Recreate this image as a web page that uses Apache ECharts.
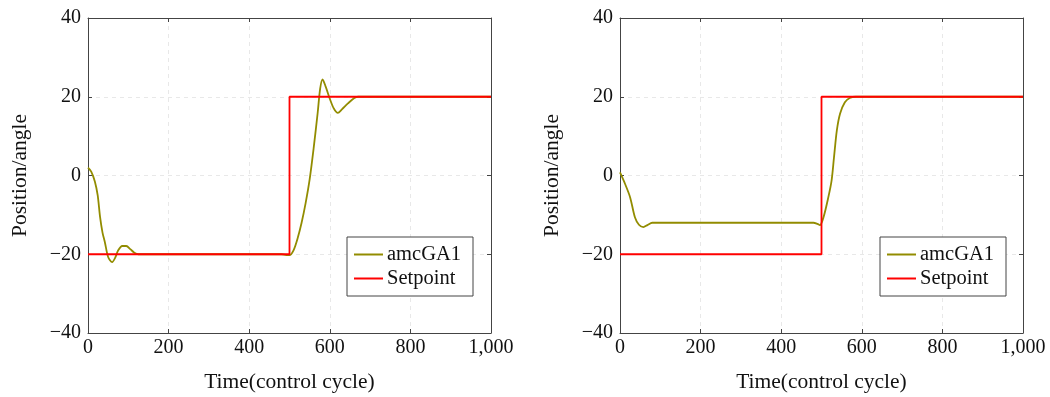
<!DOCTYPE html>
<html>
<head>
<meta charset="utf-8">
<script src="https://cdn.jsdelivr.net/npm/echarts@6/dist/echarts.min.js"></script>
<style>
html,body{margin:0;padding:0;background:#fff;}
#c{width:1050px;height:397px;}
</style>
</head>
<body>
<div id="c"></div>
<script>
// ---- data ----
const xTicks = [0, 200, 400, 600, 800, 1000];
const yTicks = [-40, -20, 0, 20, 40];
const seriesNames = ['amcGA1', 'Setpoint'];

const leftTime  = [0, 8, 17, 24, 30, 36, 42, 50, 60, 67, 75, 85, 95, 105, 115, 125, 200, 300, 400, 480, 492, 500, 510, 520, 530, 540, 550, 560, 570, 576, 582, 590, 600, 610, 620, 630, 645, 660, 670, 700, 1000];
const leftValue = [2, 1, -1.5, -5, -10.6, -14.5, -17, -20.7, -22, -21, -19, -17.9, -17.9, -18.7, -19.6, -20, -20, -20, -20, -20, -20.2, -20.2, -19, -16, -12, -7, -1, 7, 16, 22, 24.4, 22.5, 19.5, 17, 15.9, 16.8, 18.3, 19.6, 20, 20, 20];

const rightTime  = [0, 10, 25, 37, 47, 58, 68, 80, 100, 200, 300, 400, 480, 490, 496, 505, 517, 525, 531, 538, 546, 558, 570, 585, 600, 1000];
const rightValue = [0.8, -1.5, -5.5, -10.6, -12.5, -13.1, -12.6, -12, -12, -12, -12, -12, -12, -12.3, -12.6, -10.6, -5.5, -1.3, 4.6, 11.4, 15.7, 18.6, 19.7, 20, 20, 20];

const setTime  = [0, 500, 500, 1000];
const setValue = [-20, -20, 20, 20];

// ---- styling ----
const FONT = 'Liberation Serif';
const OLIVE = '#928c00';
const RED = '#ff0000';
const AXIS = '#444';

function pairs(xs, ys){ return xs.map((x,i)=>[x, ys[i]]); }
const fmtX = v => v === 1000 ? '1,000' : String(v);
const fmtY = v => v < 0 ? '\u2212' + Math.abs(v) : String(v);

const grids = [
  {left: 88, top: 18, width: 403, height: 315, outerBoundsMode: 'none', containLabel: false},
  {left: 620, top: 18, width: 403, height: 315, outerBoundsMode: 'none', containLabel: false}
];

const xAxis = [], yAxis = [], series = [], legend = [];
[0,1].forEach(g => {
  xAxis.push({
    type: 'value', gridIndex: g, min: 0, max: 1000, interval: 200, position: 'bottom',
    name: 'Time(control cycle)', nameLocation: 'middle', nameGap: 38,
    nameTextStyle: {fontFamily: FONT, fontSize: 21.5, color: '#111'},
    axisLine: {show: true, onZero: false, lineStyle: {color: AXIS, width: 1}},
    axisTick: {show: true, inside: true, length: 4, lineStyle: {color: AXIS}},
    axisLabel: {fontFamily: FONT, fontSize: 20, color: '#111', margin: 5, formatter: fmtX},
    splitLine: {show: true, lineStyle: {color: '#e8e8e8', type: [4, 4], width: 1}}
  });
  xAxis.push({
    type: 'value', gridIndex: g, min: 0, max: 1000, interval: 200, position: 'top',
    axisLine: {show: true, onZero: false, lineStyle: {color: AXIS, width: 1}},
    axisTick: {show: true, inside: true, length: 4, lineStyle: {color: AXIS}},
    axisLabel: {show: false}, splitLine: {show: false}
  });
  yAxis.push({
    type: 'value', gridIndex: g, min: -40, max: 40, interval: 20, position: 'left',
    name: 'Position/angle', nameLocation: 'middle', nameGap: 57,
    nameTextStyle: {fontFamily: FONT, fontSize: 21.5, color: '#111'},
    axisLine: {show: true, onZero: false, lineStyle: {color: AXIS, width: 1}},
    axisTick: {show: true, inside: true, length: 4, lineStyle: {color: AXIS}},
    axisLabel: {fontFamily: FONT, fontSize: 20, color: '#111', margin: 7, formatter: fmtY},
    splitLine: {show: true, lineStyle: {color: '#e8e8e8', type: [4, 4], width: 1}}
  });
  yAxis.push({
    type: 'value', gridIndex: g, min: -40, max: 40, interval: 20, position: 'right',
    axisLine: {show: true, onZero: false, lineStyle: {color: AXIS, width: 1}},
    axisTick: {show: true, inside: true, length: 4, lineStyle: {color: AXIS}},
    axisLabel: {show: false}, splitLine: {show: false}
  });
  const amc = g === 0 ? pairs(leftTime, leftValue) : pairs(rightTime, rightValue);
  series.push({
    name: seriesNames[0], type: 'line', xAxisIndex: g*2, yAxisIndex: g*2,
    data: amc, smooth: 0.3, showSymbol: false, symbol: 'none',
    lineStyle: {color: OLIVE, width: 1.8}, itemStyle: {color: OLIVE}, z: 2
  });
  series.push({
    name: seriesNames[1], type: 'line', xAxisIndex: g*2, yAxisIndex: g*2,
    data: pairs(setTime, setValue), showSymbol: false, symbol: 'none',
    lineStyle: {color: RED, width: 1.8}, itemStyle: {color: RED}, z: 3
  });
  legend.push({
    data: seriesNames, orient: 'vertical',
    left: g === 0 ? 347 : 880, top: 237,
    backgroundColor: '#fff', borderColor: '#444', borderWidth: 1, borderRadius: 0,
    padding: [7, 12, 7, 7], itemGap: 3, itemWidth: 29, itemHeight: 2, icon: 'rect',
    textStyle: {fontFamily: FONT, fontSize: 20.5, color: '#111', lineHeight: 21, padding: [0,0,0,-1]},
    selectedMode: false
  });
});

const chart = echarts.init(document.getElementById('c'), null, {renderer: 'canvas'});
chart.setOption({
  animation: false,
  backgroundColor: '#fff',
  grid: grids,
  xAxis, yAxis, series, legend
});
</script>
</body>
</html>
